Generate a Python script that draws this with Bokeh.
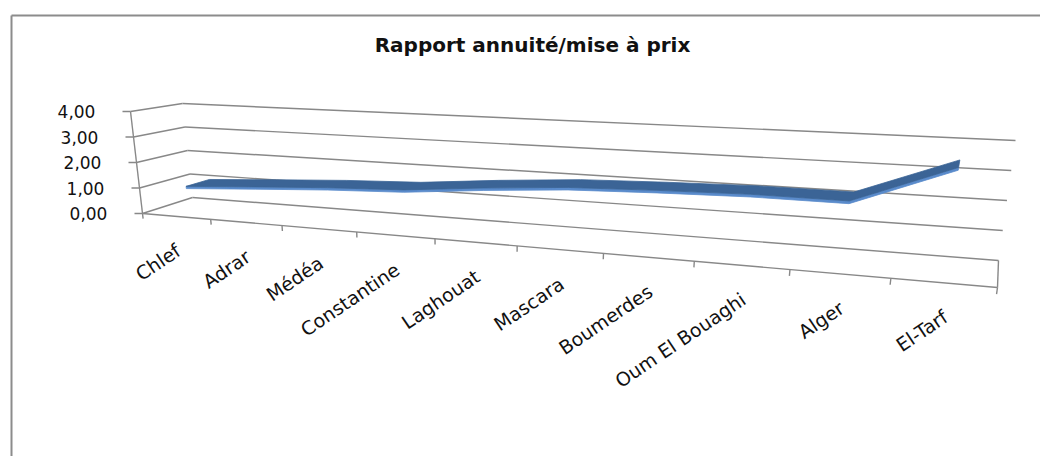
import numpy as np
from bokeh.plotting import figure
from bokeh.models import Range1d
from bokeh.core.properties import value
from bokeh.embed import file_html
from bokeh.resources import INLINE

# ---- data -------------------------------------------------------------
title_text = "Rapport annuité/mise à prix"
categories = ["Chlef", "Adrar", "Médéa", "Constantine", "Laghouat",
              "Mascara", "Boumerdes", "Oum El Bouaghi", "Alger", "El-Tarf"]
ratios = [1.02, 1.20, 1.37, 1.49, 1.76, 1.98, 2.08, 2.15, 2.14, 3.40]
value_ticks = [0, 1, 2, 3, 4]
value_labels = ["0,00", "1,00", "2,00", "3,00", "4,00"]

# ---- page and 3-D box layout -----------------------------------------
W, H = 1040, 456
V_MAX = 4.0

# page position of each corner of the plot box, keyed by
# (category end, value end, depth end) with 0 = left / bottom / front
BOX = {
    (0, 0, 0): (142, 213), (0, 1, 0): (130, 111),
    (0, 0, 1): (192, 197), (0, 1, 1): (182, 103),
    (1, 0, 0): (997, 287), (1, 1, 0): (1016, 154),
    (1, 0, 1): (998, 260), (1, 1, 1): (1015, 140),
}
PERSP = -0.22          # foreshortening along the category direction
RIBBON_DEPTH = (0.26, 0.74)
RIBBON_EDGE = 0.022    # visible thickness of the ribbon's front face

GRID = "#888888"
FONT = value("DejaVu Sans")


def project(u, v, w):
    """Map box coordinates (category, value, depth in 0..1) to the page."""
    u, v, w = np.broadcast_arrays(np.asarray(u, float),
                                  np.asarray(v, float),
                                  np.asarray(w, float))
    s = u * (1 + PERSP) / (1 + PERSP * u)
    x = np.zeros(s.shape)
    y = np.zeros(s.shape)
    for (a, b, c), (px, py) in BOX.items():
        wt = (s if a else 1 - s) * (v if b else 1 - v) * (w if c else 1 - w)
        x += wt * px
        y += wt * py
    return x, y


p = figure(width=W, height=H, x_range=Range1d(0, W), y_range=Range1d(H, 0),
           x_axis_type=None, y_axis_type=None, toolbar_location=None,
           output_backend="svg", min_border=0)
p.outline_line_color = None
p.background_fill_color = "white"
p.border_fill_color = "white"

# chart-area frame
p.segment(x0=[11, 11], y0=[15, 15], x1=[W, 11], y1=[15, H],
          line_color="#8c8c8c", line_width=2)

# ---- walls, floor and axes -------------------------------------------
n = len(categories)
xs, ys = [], []
for t in value_ticks:
    vf = t / V_MAX
    bx, by = project([0, 1], vf, 1)          # back wall gridline
    xs.append(list(bx)); ys.append(list(by))
    lx, ly = project(0, vf, [0, 1])          # side wall gridline
    xs.append(list(lx)); ys.append(list(ly))
# category axis (front edge of the floor) and right edge of the floor
fx, fy = project([0, 1], 0, 0)
xs.append(list(fx)); ys.append(list(fy))
rx, ry = project(1, 0, [0, 1])
xs.append(list(rx)); ys.append(list(ry))
# value axis
ax, ay = project(0, [0, 1], 0)
xs.append(list(ax)); ys.append(list(ay))
p.multi_line(xs, ys, line_color=GRID, line_width=1.4)

# value-axis ticks and labels
tx, ty = project(0, np.array(value_ticks) / V_MAX, 0)
p.segment(x0=tx, y0=ty, x1=tx - 8, y1=ty, line_color=GRID, line_width=1.4)
p.text(x=tx, y=ty, text=value_labels, x_offset=-54, text_align="center",
       text_baseline="middle", text_font=FONT, text_font_size="17px",
       text_color="#111111")

# category-axis ticks (category boundaries) and labels (category centres)
ub = np.arange(n + 1) / n
cx0, cy0 = project(ub, 0, 0)
cx1, cy1 = project(ub, -0.05, 0)
p.segment(x0=cx0, y0=cy0, x1=cx1, y1=cy1, line_color=GRID, line_width=1.4)

uc = (np.arange(n) + 0.5) / n
lx, ly = project(uc, 0, 0)
p.text(x=lx, y=ly, text=categories, x_offset=2, y_offset=32, angle=0.593,
       text_align="right", text_baseline="middle", text_font=FONT,
       text_font_size="19px", text_color="#111111")

# ---- the 3-D line (ribbon) --------------------------------------------
vf = np.array(ratios) / V_MAX
w0, w1 = RIBBON_DEPTH
fx_top, fy_top = project(uc, vf, w0)
fx_low, fy_low = project(uc, vf - RIBBON_EDGE, w0)
bx_top, by_top = project(uc, vf, w1)

p.patch(np.concatenate([fx_top, fx_low[::-1]]),
        np.concatenate([fy_top, fy_low[::-1]]),
        fill_color="#5a8bcb", line_color="#5a8bcb", line_width=0.8)
p.patch(np.concatenate([fx_top, bx_top[::-1]]),
        np.concatenate([fy_top, by_top[::-1]]),
        fill_color="#3b6496", line_color="#3b6496", line_width=0.8)

# ---- title -------------------------------------------------------------
p.text(x=[532], y=[44], text=[title_text], text_align="center",
       text_baseline="middle", text_font=FONT, text_font_size="20px",
       text_font_style="bold", text_color="#111111")

open("out.html", "w").write(file_html(p, INLINE))
